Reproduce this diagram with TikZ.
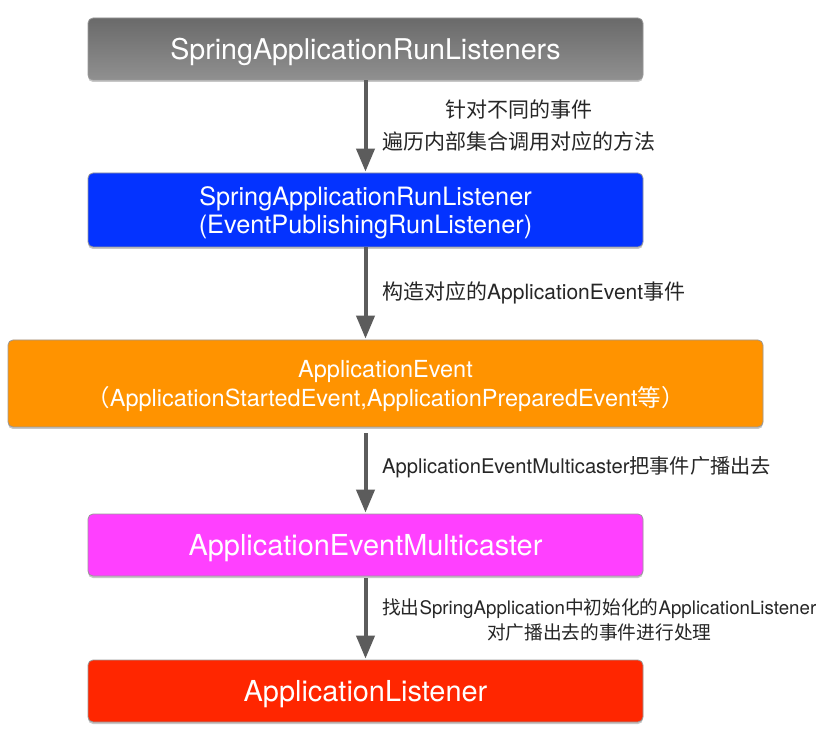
\documentclass[tikz,border=0pt]{standalone}
\usepackage{fontspec}
\setmainfont{TeX Gyre Heros}
\newfontfamily\zhfont{Noto Sans CJK SC}
\newcommand\zh[1]{{\zhfont #1}}
\usetikzlibrary{arrows.meta,shadows,calc}
\definecolor{arrowgray}{HTML}{5C5C5C}
\definecolor{graytop}{HTML}{6A6A6A}
\definecolor{graybot}{HTML}{909090}
\definecolor{boxblue}{HTML}{0433FF}
\definecolor{boxorange}{HTML}{FF9300}
\definecolor{boxmagenta}{HTML}{FF40FF}
\definecolor{boxred}{HTML}{FF2600}
\tikzset{
  box/.style={rectangle, rounded corners=5pt, draw=black!40, line width=0.8pt,
    text=white, align=center, inner sep=0pt, text depth=0pt,
    drop shadow={shadow xshift=0pt, shadow yshift=-2pt, opacity=0.22, fill=black}},
  flow/.style={draw=arrowgray, line width=4pt, -{Triangle[width=18pt,length=23pt]}},
  lbl/.style={anchor=west, align=center, text=black!85, inner sep=0pt},
}
\begin{document}
\begin{tikzpicture}[x=1pt,y=-1pt]
\useasboundingbox (0,0) rectangle (828,735);
\fill[white] (0,0) rectangle (828,735);

\node[box, minimum width=555pt, minimum height=62pt, top color=graytop, bottom color=graybot,
  font=\fontsize{28.6}{34}\selectfont, text depth=-2pt] (b1) at (365.5,49) {SpringApplicationRunListeners};
\node[box, fill=boxblue, minimum width=555pt, minimum height=74pt,
  font=\fontsize{25.3}{28}\selectfont] (b2) at (365.5,210) {SpringApplicationRunListener\\(EventPublishingRunListener)};
\node[box, fill=boxorange, minimum width=755pt, minimum height=87pt,
  font=\fontsize{23.5}{29}\selectfont, text depth=-2pt] (b3) at (385.5,383.5) {ApplicationEvent\\\zh{（}ApplicationStartedEvent,ApplicationPreparedEvent\zh{等）}};
\node[box, fill=boxmagenta, minimum width=555pt, minimum height=62pt,
  font=\fontsize{28.9}{34}\selectfont] (b4) at (365.5,545) {ApplicationEventMulticaster};
\node[box, fill=boxred, minimum width=555pt, minimum height=62pt,
  font=\fontsize{28.9}{34}\selectfont] (b5) at (365.5,691) {ApplicationListener};

\draw[flow, shorten >=1pt] (b1.south) -- (b2.north);
\draw[flow, shorten >=1pt] (b2.south) -- (b2.south |- b3.north);
\draw[flow, shorten <=6pt, shorten >=1pt] (b4.north |- b3.south) -- (b4.north);
\draw[flow, shorten <=2pt, shorten >=1pt] (b4.south) -- (b5.north);

\node[lbl, font=\fontsize{21}{32}\selectfont] (l1) at (382,126) {\zh{针对不同的事件}\\\zh{遍历内部集合调用对应的方法}};
\node[lbl, font=\fontsize{21}{25}\selectfont] (l2) at (382,293) {\zh{构造对应的}ApplicationEvent\zh{事件}};
\node[lbl, font=\fontsize{20.2}{25}\selectfont] (l3) at (382,467) {ApplicationEventMulticaster\zh{把事件广播出去}};
\node[lbl, font=\fontsize{18.7}{25}\selectfont] (l4) at (382,620) {\zh{找出}SpringApplication\zh{中初始化的}ApplicationListener\\\zh{对广播出去的事件进行处理}};
\end{tikzpicture}
\end{document}
